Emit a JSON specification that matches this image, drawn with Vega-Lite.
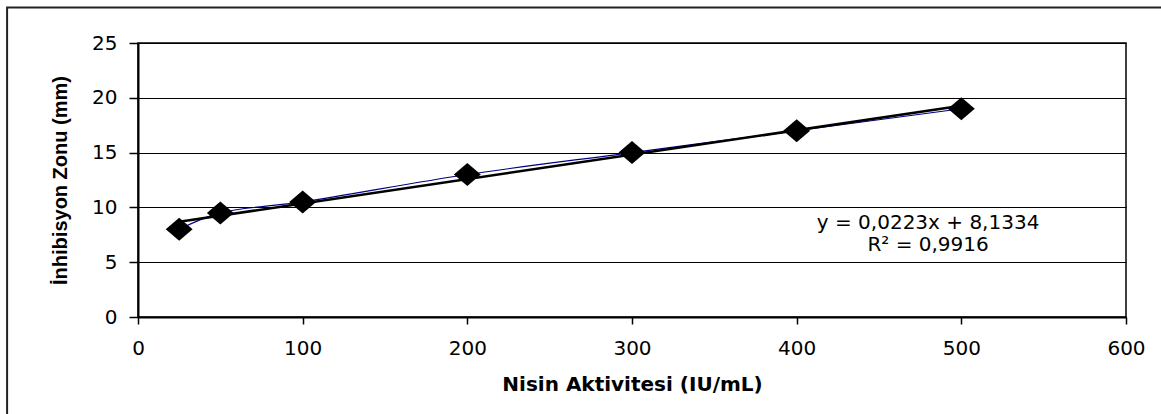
{
  "$schema": "https://vega.github.io/schema/vega-lite/v6.json",
  "width": 988,
  "height": 274,
  "autosize": {"type": "none"},
  "padding": {"left": 138, "top": 43, "right": 35, "bottom": 97},
  "background": "white",
  "config": {
    "view": {"stroke": "black", "strokeWidth": 1.5},
    "font": "DejaVu Sans"
  },
  "data": {
    "values": [
      {"aktivite": 25, "zon": 8},
      {"aktivite": 50, "zon": 9.5},
      {"aktivite": 100, "zon": 10.5},
      {"aktivite": 200, "zon": 13},
      {"aktivite": 300, "zon": 15},
      {"aktivite": 400, "zon": 17},
      {"aktivite": 500, "zon": 19}
    ]
  },
  "layer": [
    {
      "mark": {"type": "line", "color": "#000080", "strokeWidth": 1.2, "interpolate": "catmull-rom"},
      "encoding": {
        "x": {
          "field": "aktivite",
          "type": "quantitative",
          "scale": {"domain": [0, 600], "nice": false, "zero": false},
          "axis": {
            "values": [0, 100, 200, 300, 400, 500, 600],
            "grid": false,
            "domainColor": "black",
            "domainWidth": 2,
            "tickColor": "black",
            "tickWidth": 1.5,
            "tickSize": 7,
            "labelFont": "DejaVu Sans",
            "labelFontSize": 20,
            "labelColor": "black",
            "labelPadding": 14,
            "labelFlush": false,
            "labelOverlap": false,
            "title": "Nisin Aktivitesi (IU/mL)",
            "titleFont": "DejaVu Sans",
            "titleFontSize": 20,
            "titleFontWeight": "bold",
            "titleColor": "black",
            "titleBaseline": "alphabetic",
            "titleY": 73
          }
        },
        "y": {
          "field": "zon",
          "type": "quantitative",
          "scale": {"domain": [0, 25], "nice": false, "zero": false},
          "axis": {
            "values": [0, 5, 10, 15, 20, 25],
            "grid": true,
            "gridColor": "black",
            "gridWidth": 1,
            "gridOpacity": 1,
            "domainColor": "black",
            "domainWidth": 2,
            "tickColor": "black",
            "tickWidth": 1.5,
            "tickSize": 9,
            "labelFont": "DejaVu Sans",
            "labelFontSize": 20,
            "labelColor": "black",
            "labelPadding": 12,
            "labelFlush": false,
            "labelOverlap": false,
            "title": "İnhibisyon Zonu (mm)",
            "titleFont": "Liberation Sans",
            "titleFontSize": 20,
            "titleFontWeight": "bold",
            "titleColor": "black",
            "titleBaseline": "alphabetic",
            "titleX": -72
          }
        }
      }
    },
    {
      "transform": [{"regression": "zon", "on": "aktivite", "extent": [25, 500]}],
      "mark": {"type": "line", "color": "black", "strokeWidth": 2.5},
      "encoding": {
        "x": {"field": "aktivite", "type": "quantitative"},
        "y": {"field": "zon", "type": "quantitative"}
      }
    },
    {
      "mark": {
        "type": "point",
        "shape": "M-1.17,0L0,-1L1.17,0L0,1Z",
        "size": 529,
        "filled": true,
        "color": "black",
        "opacity": 1
      },
      "encoding": {
        "x": {"field": "aktivite", "type": "quantitative"},
        "y": {"field": "zon", "type": "quantitative"}
      }
    },
    {
      "data": {"values": [{"cerceve": 1}]},
      "mark": {"type": "rect", "filled": false, "stroke": "#222222", "strokeWidth": 2, "clip": false},
      "encoding": {
        "x": {"datum": -79.5, "type": "quantitative"},
        "x2": {"datum": 720},
        "y": {"datum": 28.24, "type": "quantitative"},
        "y2": {"datum": -15}
      }
    },
    {
      "data": {"values": [{"denklem": 1}]},
      "mark": {
        "type": "text",
        "text": ["y = 0,0223x + 8,1334", "R² = 0,9916"],
        "font": "DejaVu Sans",
        "fontSize": 20,
        "align": "center",
        "baseline": "middle",
        "lineHeight": 22.5,
        "color": "black"
      },
      "encoding": {
        "x": {"datum": 479.8, "type": "quantitative"},
        "y": {"datum": 8.58, "type": "quantitative"}
      }
    }
  ]
}
